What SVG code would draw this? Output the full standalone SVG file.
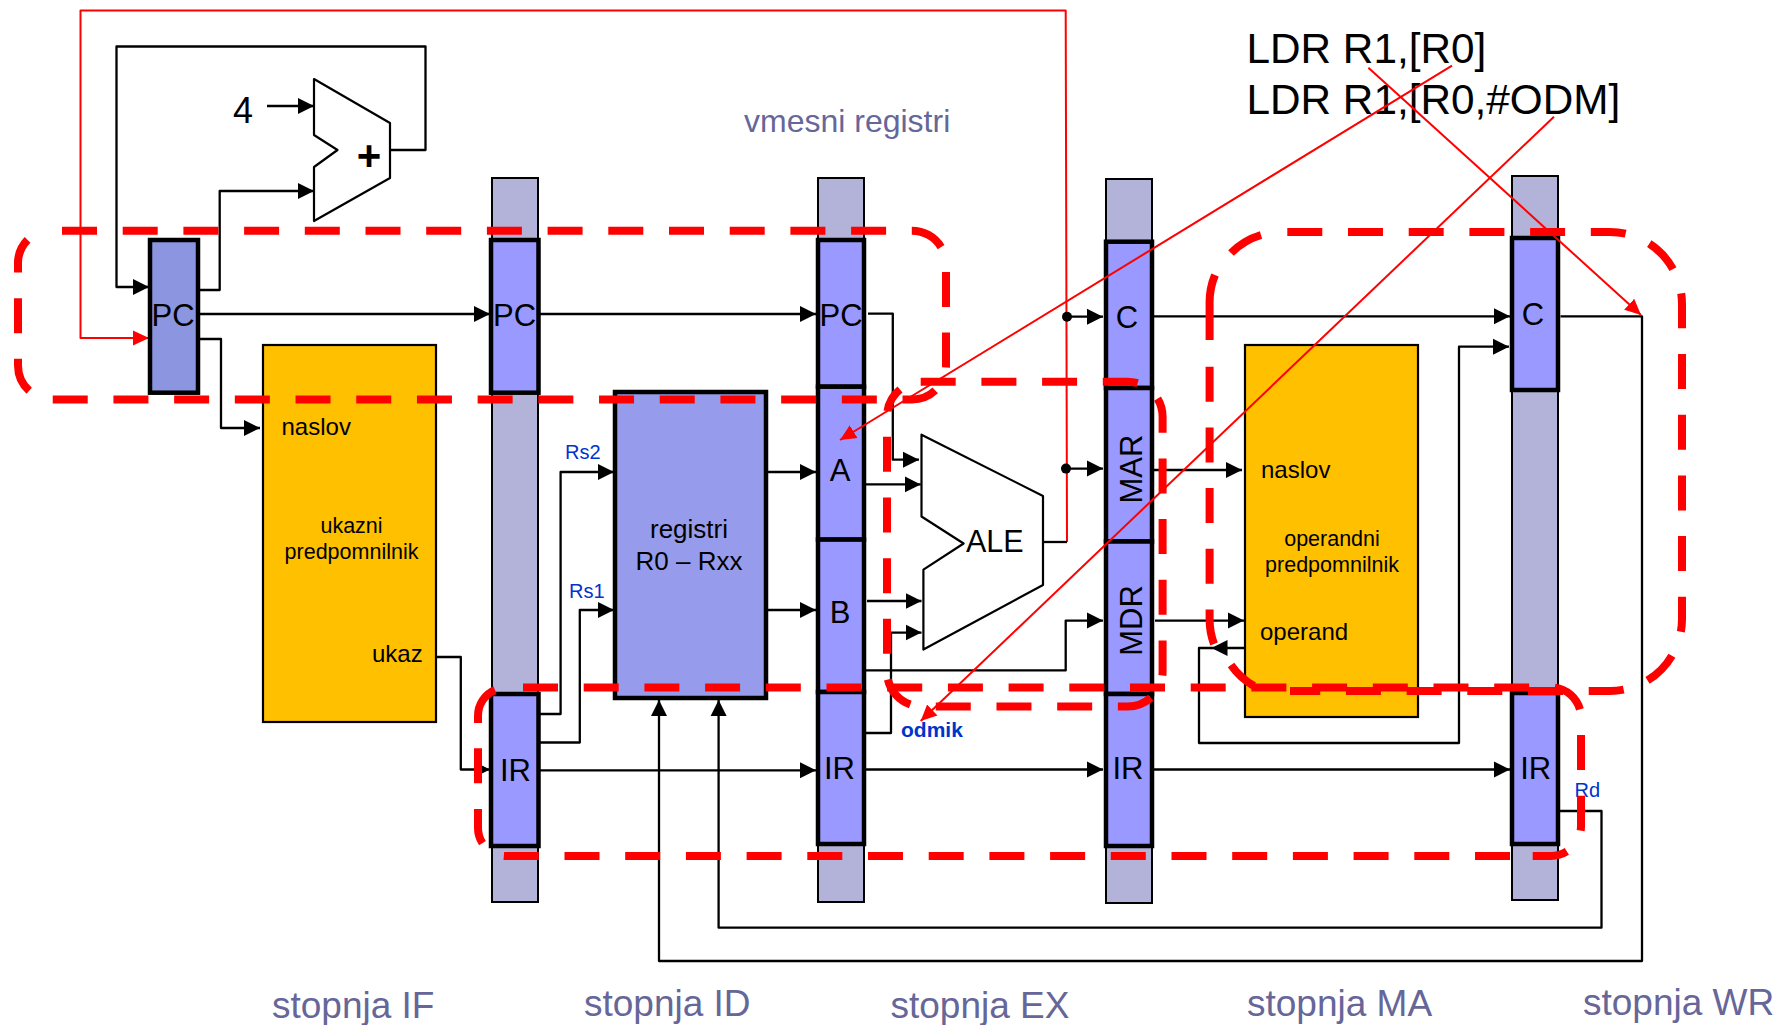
<svg xmlns="http://www.w3.org/2000/svg" width="1779" height="1025" viewBox="0 0 1779 1025">
<style>
text{font-family:"Liberation Sans",Arial,sans-serif;fill:#000}
.col{fill:#b3b3d9;stroke:#000;stroke-width:2}
.reg{fill:#9999ff;stroke:#000;stroke-width:4.5}
.cache{fill:#ffc000;stroke:#000;stroke-width:2.2}
.alu{fill:#fff;stroke:#000;stroke-width:2.2;stroke-linejoin:round}
.w{fill:none;stroke:#000;stroke-width:2.3;stroke-linejoin:round}
.a{marker-end:url(#ah)}
.rw{fill:none;stroke:#f00;stroke-width:2;stroke-linejoin:round}
.ra{marker-end:url(#rh)}
.zone{fill:none;stroke:#f00;stroke-width:8;stroke-dasharray:35 25.7}
.zs{fill:none;stroke:#f00;stroke-width:8}
.r{font-size:31px;text-anchor:middle}
.m{font-size:24px}
.c{font-size:21.500px;text-anchor:middle}
.b{font-size:20px;fill:#0033cc}
.s{font-size:37px;fill:#666699}
.l{font-size:42.300px}
</style>
<defs>
<marker id="ah" markerUnits="userSpaceOnUse" markerWidth="17" markerHeight="17" refX="16" refY="8.500" orient="auto"><path d="M0,0.500L16,8.500L0,16.500Z" fill="#000"/></marker>
<marker id="rh" markerUnits="userSpaceOnUse" markerWidth="18" markerHeight="18" refX="16" refY="8" orient="auto"><path d="M0,0.500L16,8L0,15.500Z" fill="#f00"/></marker>
</defs>

<g id="col-if"><rect class="col" x="492" y="178" width="46" height="724"/></g>
<g id="col-id"><rect class="col" x="818" y="178" width="46" height="724"/></g>
<g id="col-ex"><rect class="col" x="1106" y="179" width="46" height="724"/></g>
<g id="col-wr"><rect class="col" x="1512" y="176" width="46" height="724"/></g>

<g id="connectors">
<path class="rw ra" d="M1067,542L1065.700,10.500H80.500V338H149"/>
<path class="w" d="M1043,542H1067"/>
<path class="w a" d="M390,150H425.500V46.500H116.500V287H149"/>
<path class="w a" d="M267,106H314"/>
<path class="w a" d="M198,290H219.700V191H314"/>
<path class="w a" d="M198,314H490"/>
<path class="w a" d="M198,339H221V428H260"/>
<path class="w a" d="M538,314H816"/>
<path class="w a" d="M868,313.700H892.800V459.700H919"/>
<path class="w a" d="M866,484.400H920.700"/>
<path class="w a" d="M867,601H921.500"/>
<path class="w a" d="M866,733H891V632.600H921.500"/>
<path class="w a" d="M866,670.400H1065.700V620.600H1103"/>
<path class="w a" d="M1067,316.700H1103"/>
<path class="w a" d="M1066,468.600H1103"/>
<circle cx="1067" cy="316.700" r="5"/>
<circle cx="1066" cy="468.600" r="5"/>
<path class="w a" d="M1152,316.300H1510"/>
<path class="w a" d="M1152,470H1242"/>
<path class="w a" d="M1155,620.600H1244"/>
<path class="w a" d="M1245,648H1211.500"/>
<path class="w a" d="M1212,648H1199V743H1459V346.700H1509"/>
<path class="w a" d="M1560.500,316.300H1642V961H659V700"/>
<path class="w a" d="M1560,811H1601.500V927.700H718.600V700"/>
<path class="w a" d="M538,770.300H816"/>
<path class="w a" d="M866,769.500H1103"/>
<path class="w a" d="M1152,769.500H1510"/>
<path class="w a" d="M436,657H460.800V769.500H490"/>
<path class="w a" d="M540,714H560.600V472H614"/>
<path class="w a" d="M540,742.500H579.800V610H614"/>
<path class="w a" d="M767,472H816"/>
<path class="w a" d="M767,610H816"/>
</g>

<g id="pc-if"><rect class="reg" style="fill:#8c96e0" x="150" y="240" width="48" height="152.700"/><text class="r" x="173" y="325.500">PC</text></g>
<g id="pc-id"><rect class="reg" x="491" y="240" width="47.500" height="152.700"/><text class="r" x="514.500" y="326">PC</text></g>
<g id="ir-id"><rect class="reg" x="491" y="694" width="47.500" height="152"/><text class="r" x="515.500" y="780.500">IR</text></g>
<g id="pc-ex"><rect class="reg" x="818" y="240" width="46" height="146.700"/><text class="r" x="841" y="326">PC</text></g>
<g id="a"><rect class="reg" x="818" y="386.700" width="46" height="152.900"/><text class="r" x="840" y="480.700">A</text></g>
<g id="b"><rect class="reg" x="818" y="539.600" width="46" height="152.400"/><text class="r" x="840" y="623">B</text></g>
<g id="ir-ex"><rect class="reg" x="818" y="692" width="46" height="152"/><text class="r" x="839.500" y="779">IR</text></g>
<g id="c-ma"><rect class="reg" x="1106" y="241.700" width="46" height="146.300"/><text class="r" x="1127" y="328">C</text></g>
<g id="mar"><rect class="reg" x="1106" y="388" width="46" height="153.500"/><text class="r" transform="rotate(-90 1141.500 469)" x="1141.500" y="469">MAR</text></g>
<g id="mdr"><rect class="reg" x="1106" y="541.500" width="46" height="152.500"/><text class="r" transform="rotate(-90 1141.500 620.500)" x="1141.500" y="620.500">MDR</text></g>
<g id="ir-ma"><rect class="reg" x="1106" y="694" width="46" height="152"/><text class="r" x="1128" y="779">IR</text></g>
<g id="c-wr"><rect class="reg" x="1512" y="238" width="46" height="152"/><text class="r" x="1533" y="325">C</text></g>
<g id="ir-wr"><rect class="reg" x="1512" y="693" width="46" height="151"/><text class="r" x="1535.700" y="779">IR</text></g>

<g id="adder"><path class="alu" d="M314,79L390,123V178L314,221V167L337.500,150L314,135Z"/><text x="369" y="170" font-size="42" text-anchor="middle" font-weight="bold">+</text></g>
<text x="233" y="123" font-size="36">4</text>

<g id="icache"><rect class="cache" x="263" y="345" width="173" height="377"/>
<text class="m" x="281.500" y="435">naslov</text>
<text class="c" x="351.500" y="533">ukazni</text>
<text class="c" x="351.500" y="559">predpomnilnik</text>
<text class="m" x="372" y="662">ukaz</text></g>

<g id="registers"><rect class="reg" style="fill:#969ceb" x="615" y="392" width="151" height="306"/>
<text x="689" y="538" font-size="26" text-anchor="middle">registri</text>
<text x="689" y="570" font-size="26" text-anchor="middle">R0 – Rxx</text></g>

<g id="alu"><path class="alu" d="M921.500,434.700L1043,496V585L923.400,649.500V569.700L963.600,543.500L921.500,516.500Z"/><text x="966" y="552" font-size="30.500">ALE</text></g>

<g id="dcache"><rect class="cache" x="1245" y="345" width="173" height="372"/>
<text class="m" x="1261" y="477.500">naslov</text>
<text class="c" x="1332" y="546">operandni</text>
<text class="c" x="1332" y="572">predpomnilnik</text>
<text class="m" x="1260" y="640">operand</text></g>

<text class="b" x="565" y="459">Rs2</text>
<text class="b" x="569" y="598">Rs1</text>
<text class="b" x="1574.500" y="797">Rd</text>
<text class="b" x="901" y="737" style="font-size:21px;font-weight:bold">odmik</text>
<text x="744" y="132" font-size="32" style="fill:#666699">vmesni registri</text>
<text class="s" x="272" y="1017.500">stopnja IF</text>
<text class="s" x="584" y="1016">stopnja ID</text>
<text class="s" x="890.500" y="1017.500">stopnja EX</text>
<text class="s" x="1247" y="1016">stopnja MA</text>
<text class="s" x="1583" y="1015">stopnja WR</text>
<text class="l" x="1246.500" y="63">LDR R1,[R0]</text>
<text class="l" x="1246.500" y="114">LDR R1,[R0,#ODM]</text>

<g id="zones">
<path class="zone" d="M62,230.700H912A34,34 0 0 1 946,264.700V365.500A34,34 0 0 1 912,399.500H52A34,34 0 0 1 18,365.500V264.700A34,34 0 0 1 37,233"/>
<path class="zone" d="M920.700,381.700H1127.600A35,35 0 0 1 1162.600,416.700V671.600A35,35 0 0 1 1127.600,706.600H922A35,35 0 0 1 887,671.600V416.700A35,35 0 0 1 900,389.500"/>
<path class="zone" d="M1287.300,232H1610A72,72 0 0 1 1682,304V619A72,72 0 0 1 1610,691H1290M1214,644A72,72 0 0 1 1209.600,619V343"/>
<path class="zs" d="M1209.600,340V304A72,72 0 0 1 1215,275M1231,253A72,72 0 0 1 1261,235M1254,686A72,72 0 0 1 1231,665"/>
<path class="zone" d="M523,687.400H1551A30,30 0 0 1 1581,717.400V826A30,30 0 0 1 1551,856H1532M1510,856H506A28,28 0 0 1 478,828V726"/>
<path class="zs" d="M478,723V716A28,28 0 0 1 495,690"/>
</g>
<g id="red-arrows">
<path class="rw ra" d="M1452,65.700L840,440"/>
<path class="rw ra" d="M1368.400,67.700L1641,315"/>
<path class="rw ra" d="M1554,116.700L920.700,721"/>
</g>
</svg>
